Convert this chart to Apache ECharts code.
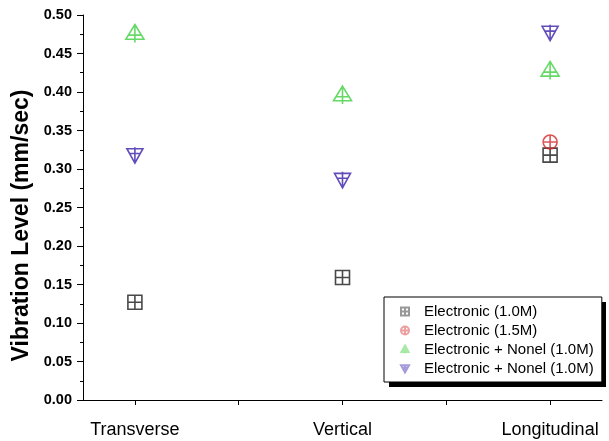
<!DOCTYPE html>
<html><head><meta charset="utf-8">
<script src="https://cdn.jsdelivr.net/npm/echarts@6/dist/echarts.min.js"></script>
<style>html,body{margin:0;padding:0;background:#fff}#c{width:609px;height:441px}</style>
</head><body><div id="c"></div>
<script>
var categories = ['Transverse', 'Vertical', 'Longitudinal'];
var xPositions = [1, 2, 3];
var elec10 = [0.127, 0.159, 0.318];
var elec15 = [null, null, 0.335];
var nonelA = [0.476, 0.396, 0.428];
var nonelB = [0.318, 0.286, 0.477];
var seriesNames = ['Electronic (1.0M)', 'Electronic (1.5M)', 'Electronic + Nonel (1.0M)', 'Electronic + Nonel (1.0M) '];

var SQ = 'path://M0,0L10,0L10,10L0,10Z M5,0L5,10 M0,5L10,5';
var CI = 'path://M0,5A5,5 0 1,1 10,5A5,5 0 1,1 0,5Z M5,0L5,10 M0,5L10,5';
var TU = 'path://M5,0L10,9L0,9Z M5,0L5,11 M1.5,6.5L8.5,6.5';
var TD = 'path://M0,1L10,1L5,10Z M5,0L5,10 M1.5,4L8.5,4';

function pts(vals) { return vals.map(function (v, i) { return [xPositions[i], v]; }); }
function mk(name, vals, sym, color, size) {
  return {
    name: name, type: 'scatter', data: pts(vals), symbol: sym, symbolSize: size,
    itemStyle: { color: 'rgba(0,0,0,0)', borderColor: color, borderWidth: 1.6 },
    emphasis: { disabled: true }
  };
}
var chart = echarts.init(document.getElementById('c'), null, { renderer: 'canvas' });
chart.setOption({
  animation: false,
  backgroundColor: '#fff',
  grid: { left: 83, top: 15, right: 7, bottom: 41 },
  graphic: [{
    type: 'rect', left: 389, top: 302, z: 3,
    shape: { width: 217, height: 85 },
    style: { fill: '#000' }
  }],
  xAxis: {
    type: 'value', min: 0.75, max: 3.25,
    axisLine: { lineStyle: { color: '#000', width: 1 } },
    axisTick: { show: true, length: 5, customValues: [1, 1.5, 2, 2.5, 3], lineStyle: { color: '#000' } },
    axisLabel: {
      customValues: xPositions,
      formatter: function (v) { return categories[Math.round(v) - 1] || ''; },
      color: '#000', fontFamily: 'Liberation Sans, Arial', fontSize: 18, margin: 21
    },
    splitLine: { show: false }
  },
  yAxis: {
    type: 'value', min: 0, max: 0.5, interval: 0.05,
    name: 'Vibration Level (mm/sec)', nameLocation: 'middle', nameGap: 44,
    nameTextStyle: { color: '#000', fontFamily: 'Liberation Sans, Arial', fontWeight: 'bold', fontSize: 23, padding: [0, 36, 0, 0] },
    axisLine: { show: true, lineStyle: { color: '#000', width: 1 } },
    axisTick: { show: true, length: 6, lineStyle: { color: '#000' } },
    minorTick: { show: true, splitNumber: 2, length: 3, lineStyle: { color: '#000' } },
    axisLabel: {
      formatter: function (v) { return v.toFixed(2); },
      color: '#000', fontFamily: 'Liberation Sans, Arial', fontWeight: 'bold', fontSize: 14.5, margin: 11
    },
    splitLine: { show: false }
  },
  legend: {
    orient: 'vertical', left: 384, top: 297, z: 5,
    padding: [7, 4, 6, 16], itemGap: 4, itemWidth: 8, itemHeight: 8,
    backgroundColor: '#fff', borderColor: '#000', borderWidth: 1,
    itemStyle: { opacity: 0.45 },
    textStyle: { color: '#000', fontFamily: 'Liberation Sans, Arial', fontSize: 15, lineHeight: 15, padding: [0, 0, 0, 10] },
    data: seriesNames
  },
  series: [
    mk(seriesNames[0], elec10, SQ, '#1a1a1a', 14),
    mk(seriesNames[1], elec15, CI, '#d42a2a', 14),
    mk(seriesNames[2], nonelA, TU, '#3fcf3f', 18),
    mk(seriesNames[3], nonelB, TD, '#3a1fa8', 16)
  ]
});
</script></body></html>
